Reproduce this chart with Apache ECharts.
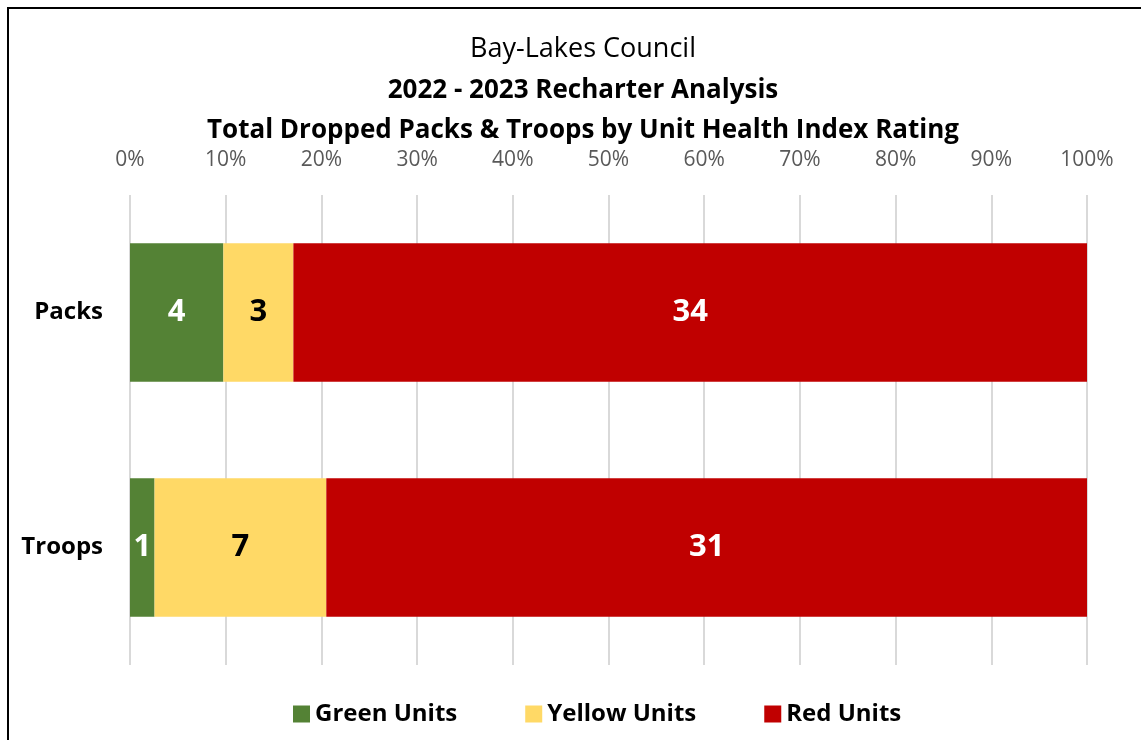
<!DOCTYPE html>
<html>
<head>
<meta charset="utf-8">
<script src="https://cdn.jsdelivr.net/npm/echarts@6/dist/echarts.min.js"></script>
<style>
  html, body { margin: 0; padding: 0; background: #fff; }
  #main { width: 1141px; height: 740px; }
</style>
</head>
<body>
<div id="main"></div>
<script>
// data
var categories = ['Packs', 'Troops'];
var seriesNames = ['Green Units', 'Yellow Units', 'Red Units'];
var greenUnits = [4, 1];
var yellowUnits = [3, 7];
var redUnits = [34, 31];
var tickMin = 0, tickMax = 100, tickStep = 10;

var counts = [greenUnits, yellowUnits, redUnits];
var colors = ['#548235', '#ffd966', '#c00000'];
var labelColors = ['#ffffff', '#000000', '#ffffff'];
var totals = categories.map(function (c, i) {
  return greenUnits[i] + yellowUnits[i] + redUnits[i];
});

var font = 'Open Sans';
var chart = echarts.init(document.getElementById('main'));

var series = seriesNames.map(function (name, s) {
  return {
    name: name,
    type: 'bar',
    stack: 'all',
    barWidth: '59%',
    itemStyle: { color: colors[s] },
    label: {
      show: true,
      position: 'inside',
      color: labelColors[s],
      fontFamily: font,
      fontWeight: 'bold',
      fontSize: 31,
      formatter: function (p) { return counts[s][p.dataIndex]; }
    },
    data: counts[s].map(function (v, i) { return v / totals[i] * 100; })
  };
});

chart.setOption({
  animation: false,
  title: {
    text: 'Bay-Lakes Council',
    subtext: '2022 - 2023 Recharter Analysis\nTotal Dropped Packs & Troops by Unit Health Index Rating',
    left: 578,
    textAlign: 'center',
    top: 31,
    itemGap: 8,
    textStyle: { fontFamily: font, fontWeight: 'normal', fontSize: 27, color: '#000' },
    subtextStyle: { fontFamily: font, fontWeight: 'bold', fontSize: 26, color: '#000', lineHeight: 40 }
  },
  legend: {
    bottom: 9,
    left: 288,
    itemWidth: 17,
    itemHeight: 17,
    itemGap: 68,
    icon: 'rect',
    textStyle: { fontFamily: font, fontWeight: 'bold', fontSize: 24, color: '#000' },
    data: seriesNames
  },
  grid: { left: 130, right: 54, top: 195, bottom: 75 },
  xAxis: {
    type: 'value',
    position: 'top',
    min: tickMin,
    max: tickMax,
    interval: tickStep,
    axisLine: { show: false },
    axisTick: { show: false },
    axisLabel: {
      formatter: '{value}%',
      color: '#595959',
      fontFamily: font,
      fontSize: 21,
      margin: 24
    },
    splitLine: { lineStyle: { color: '#d9d9d9', width: 2 } }
  },
  yAxis: {
    type: 'category',
    inverse: true,
    data: categories,
    axisLine: { show: false },
    axisTick: { show: false },
    axisLabel: {
      color: '#000',
      fontFamily: font,
      fontWeight: 'bold',
      fontSize: 24,
      margin: 27
    }
  },
  series: series,
  graphic: [{
    type: 'rect',
    shape: { x: 8, y: 8, width: 1200, height: 800 },
    style: { fill: 'none', stroke: '#000', lineWidth: 2 },
    silent: true
  }]
});
</script>
</body>
</html>
